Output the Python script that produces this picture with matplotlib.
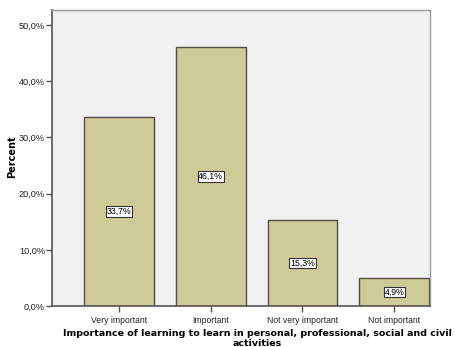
import matplotlib.pyplot as plt
from matplotlib.ticker import FuncFormatter

plt.rcParams['font.family'] = ['Liberation Sans', 'DejaVu Sans']

categories = ['Very important', 'Important', 'Not very important', 'Not important']
percents = [33.7, 46.1, 15.3, 4.9]
yticks = [0, 10, 20, 30, 40, 50]

bar_color = '#cfcb98'
bg_color = '#f0f1f0'

W, H = 455, 347
fig = plt.figure(figsize=(W / 100, H / 100), dpi=100)
ax = fig.add_axes([52 / W, 1 - 306 / H, 378 / W, 296 / H])
ax.set_facecolor(bg_color)

x = range(len(categories))
ax.bar(x, percents, width=0.76, color=bar_color,
       edgecolor='#4f4f48', linewidth=1.0)

# value labels sit halfway up each bar
for xi, v in zip(x, percents):
    ax.text(xi, v / 2, f'{v:.1f}%'.replace('.', ','), ha='center', va='center',
            fontsize=6.3, color='black',
            bbox=dict(boxstyle='square,pad=0.08', facecolor='white',
                      edgecolor='#333333', linewidth=0.8))

ax.set_xlim(-0.73, 3.39)
ax.set_ylim(0, 52.7)
ax.set_xticks(list(x))
ax.set_xticklabels(categories, fontsize=6.2, color='#222222')
ax.set_yticks(yticks)
ax.yaxis.set_major_formatter(FuncFormatter(lambda v, p: f'{v:.1f}%'.replace('.', ',')))
ax.tick_params(axis='y', labelsize=6.6, labelcolor='#222222', length=4, width=1,
               color='#555555', pad=1)
ax.tick_params(axis='x', length=4, width=1, color='#555555', pad=3)

for side in ['left', 'bottom']:
    ax.spines[side].set_color('#555555')
    ax.spines[side].set_linewidth(1.2)
for side in ['top', 'right']:
    ax.spines[side].set_color('#9a9a9a')
    ax.spines[side].set_linewidth(1.0)

fig.text(12.5 / W, 1 - 157 / H, 'Percent', rotation=90, ha='center', va='center',
         fontsize=7, fontweight='bold', family='DejaVu Sans')
fig.text(257 / W, 1 - 333 / H,
         'Importance of learning to learn in personal, professional, social and civil',
         ha='center', va='center', fontsize=6.8, fontweight='bold', family='DejaVu Sans')
fig.text(257 / W, 1 - 343 / H, 'activities',
         ha='center', va='center', fontsize=6.8, fontweight='bold', family='DejaVu Sans')

fig.savefig('out.png', dpi=100)
